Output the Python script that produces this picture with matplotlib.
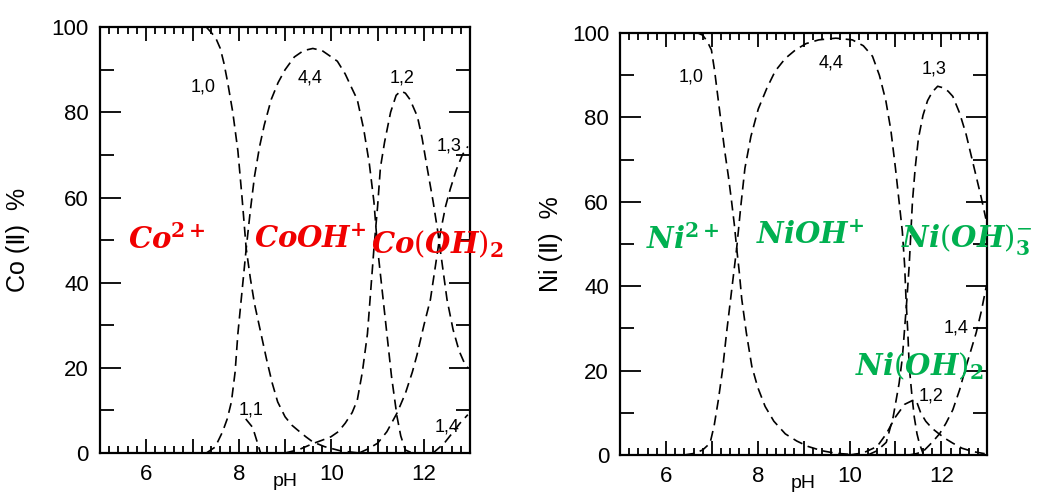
import matplotlib
matplotlib.use("Agg")
import matplotlib.pyplot as plt
from matplotlib.ticker import MultipleLocator

plt.rcParams["font.family"] = ["Liberation Sans", "DejaVu Sans"]
plt.rcParams["mathtext.fontset"] = "dejavuserif"

# ---- Co(II) species distribution (pH, %) ----
co_10_ph = [7.3, 7.4, 7.5, 7.6, 7.68, 7.76, 7.87, 7.98, 8.07, 8.16, 8.25, 8.34, 8.42, 8.5, 8.6,
            8.72, 8.84, 9.0, 9.15, 9.27, 9.45, 9.6, 9.85, 10.2, 10.6]
co_10 = [100, 98.8, 97.5, 95, 91.5, 87, 80, 71, 60, 48, 41, 35, 31, 27, 22,
         16.5, 12, 8.5, 6.5, 5.4, 3.8, 2.6, 1.5, 0.5, 0]
co_44_ph = [7.3, 7.49, 7.65, 7.75, 7.84, 7.92, 7.98, 8.07, 8.16, 8.25, 8.34, 8.45, 8.55, 8.7, 8.85,
            9.0, 9.2, 9.4, 9.6, 9.8, 10.0, 10.13, 10.3, 10.45, 10.56, 10.7, 10.82, 10.92, 11.0,
            11.1, 11.2, 11.3, 11.42, 11.5, 11.6, 11.75]
co_44 = [0, 1.4, 5, 8, 12, 19, 28, 38, 48, 57, 65, 72, 77, 83, 87,
         90, 93, 94.5, 95, 94.5, 93, 92, 89, 85.5, 83, 76, 68, 59, 48,
         38, 28, 18, 8.5, 4, 0.7, 0]
co_12_ph = [9.0, 9.3, 9.6, 9.8, 9.99, 10.15, 10.3, 10.45, 10.56, 10.67, 10.78, 10.85, 10.92, 11.0,
            11.06, 11.15, 11.28, 11.4, 11.5, 11.6, 11.7, 11.86, 11.96, 12.07, 12.2, 12.3, 12.4,
            12.5, 12.63, 12.76, 12.88, 12.95]
co_12 = [0, 0.8, 2.2, 3, 3.8, 5, 7, 9.5, 12.4, 19, 28, 38, 48, 58,
         67, 73, 80, 84, 85, 84.5, 83, 79, 74, 67, 59, 52, 44,
         36, 29, 24, 21, 20]
co_13_ph = [10.6, 10.8, 11.0, 11.2, 11.42, 11.6, 11.75, 11.85, 12.0, 12.14, 12.25, 12.36, 12.47,
            12.57, 12.7, 12.83, 12.95]
co_13 = [0, 1, 2.3, 5, 9.4, 14, 19, 23, 30, 36, 44, 52, 58,
         62, 66.5, 70, 72]
co_11_ph = [8.15, 8.3, 8.4, 8.47]
co_11 = [8, 6, 2.5, 0]
co_14_ph = [12.2, 12.44, 12.6, 12.78, 12.95]
co_14 = [0, 2.3, 4.5, 7, 9]

# ---- Ni(II) species distribution (pH, %) ----
ni_10_ph = [6.7, 6.8, 6.9, 6.99, 7.06, 7.14, 7.21, 7.28, 7.36, 7.43, 7.49, 7.54, 7.6, 7.65, 7.75,
            7.87, 8.0, 8.16, 8.35, 8.6, 8.85, 9.1, 9.4, 9.7, 10.2]
ni_10 = [100, 99.5, 98, 96, 91, 84, 78, 72, 66, 60, 54.5, 49, 43, 37, 29,
         21, 16, 11.5, 8, 5, 3.3, 2, 1, 0.4, 0]
ni_44_ph = [6.4, 6.63, 6.8, 6.96, 7.05, 7.14, 7.23, 7.32, 7.43, 7.54, 7.63, 7.72, 7.85, 8.01, 8.2,
            8.38, 8.6, 8.82, 9.05, 9.33, 9.7, 10.06, 10.3, 10.5, 10.65, 10.79, 10.9, 11.0, 11.08,
            11.15, 11.2, 11.23, 11.27, 11.3, 11.36, 11.41, 11.47, 11.52, 11.6]
ni_44 = [0, 0.4, 1.2, 2.8, 7, 13, 20, 29, 39, 49, 59, 68, 75.5, 82, 87,
         91, 94, 96, 97.5, 98.4, 98.8, 98.4, 97, 94.5, 90, 84, 77, 68, 60,
         53, 45, 37, 29, 21, 14, 9, 5, 2.8, 0.4]
ni_13_ph = [10.4, 10.6, 10.8, 10.95, 11.08, 11.15, 11.2, 11.25, 11.3, 11.37, 11.43, 11.5, 11.6,
            11.7, 11.8, 11.92, 12.05, 12.15, 12.25, 12.4, 12.54, 12.65, 12.76, 12.87, 12.97]
ni_13 = [0, 1, 3, 9, 17, 23, 30, 37, 45, 60, 68, 75, 80.5,
         84, 86, 87.4, 87, 86.2, 85, 81, 76, 71, 66, 61, 56]
ni_12_ph = [10.0, 10.3, 10.6, 10.8, 11.0, 11.2, 11.35, 11.45, 11.55, 11.66, 11.8, 11.95, 12.1,
            12.25, 12.45, 12.69, 12.95]
ni_12 = [0, 0.5, 2, 5, 9, 12, 12.8, 13, 10, 8, 6.3, 5, 3.8,
         2.8, 1.6, 0.8, 0.3]
ni_14_ph = [11.3, 11.45, 11.6, 11.8, 11.96, 12.1, 12.25, 12.4, 12.54, 12.65, 12.76, 12.87, 12.98]
ni_14 = [0, 0.3, 0.8, 3, 5, 7.5, 10.7, 15.5, 21, 25, 29, 34, 40]

x_ticks = [5, 6, 7, 8, 9, 10, 11, 12, 13]
x_labels = ["", "6", "", "8", "", "10", "", "12", ""]
y_ticks = [0, 20, 40, 60, 80, 100]

co_curves = [(co_10_ph, co_10), (co_44_ph, co_44), (co_12_ph, co_12),
             (co_13_ph, co_13), (co_11_ph, co_11), (co_14_ph, co_14)]
co_tags = [("1,0", 7.23, 86), ("4,4", 9.53, 88), ("1,2", 11.53, 88),
           ("1,3", 12.54, 72), ("1,1", 8.26, 10), ("1,4", 12.5, 6)]
ni_curves = [(ni_10_ph, ni_10), (ni_44_ph, ni_44), (ni_13_ph, ni_13),
             (ni_12_ph, ni_12), (ni_14_ph, ni_14)]
ni_tags = [("1,0", 6.55, 89.5), ("4,4", 9.59, 93), ("1,3", 11.85, 91.5),
           ("1,4", 12.33, 30), ("1,2", 11.78, 14)]

red = "#F00000"
green = "#00B050"
co_species = [(r"$\mathbfit{Co}^{\mathbf{2+}}$", 6.45, 50),
              (r"$\mathbfit{CoOH}^{\mathbf{+}}$", 9.55, 50),
              (r"$\mathbfit{Co}(\mathbfit{OH})_{\mathbf{2}}$", 12.3, 49)]
ni_species = [(r"$\mathbfit{Ni}^{\mathbf{2+}}$", 6.37, 51),
              (r"$\mathbfit{NiOH}^{\mathbf{+}}$", 9.15, 52),
              (r"$\mathbfit{Ni}(\mathbfit{OH})_{\mathbf{3}}^{-}$", 12.55, 51),
              (r"$\mathbfit{Ni}(\mathbfit{OH})_{\mathbf{2}}$", 11.52, 21)]

fig = plt.figure(figsize=(10.37, 4.94), dpi=100)
ax1 = fig.add_axes([0.0964, 0.083, 0.357, 0.862])
ax2 = fig.add_axes([0.598, 0.079, 0.354, 0.854])


def setup(ax, ylabel, ylab_x):
    ax.set_xlim(5, 13)
    ax.set_ylim(0, 100)
    ax.set_xticks(x_ticks)
    ax.set_xticklabels(x_labels)
    ax.set_yticks(y_ticks)
    ax.xaxis.set_minor_locator(MultipleLocator(0.2))
    ax.yaxis.set_minor_locator(MultipleLocator(10))
    ax.tick_params(which="both", direction="in", top=True, right=True, width=1.3)
    ax.tick_params(which="major", length=10, labelsize=16, pad=8)
    ax.tick_params(which="minor", length=5)
    ax.tick_params(axis="y", which="major", length=15)
    ax.tick_params(axis="y", which="minor", length=10)
    for s in ax.spines.values():
        s.set_linewidth(1.6)
    ax.set_xlabel("pH", fontsize=14)
    ax.xaxis.set_label_coords(0.5, -0.048)
    ax.set_ylabel(ylabel, fontsize=18)
    ax.yaxis.set_label_coords(ylab_x, 0.5)


for ax, curves, tags, species, color, ylabel, ylab_x in [
        (ax1, co_curves, co_tags, co_species, red, "Co (Ⅱ)  %", -0.19),
        (ax2, ni_curves, ni_tags, ni_species, green, "Ni (Ⅱ)  %", -0.155)]:
    setup(ax, ylabel, ylab_x)
    for xs, ys in curves:
        ax.plot(xs, ys, color="black", lw=1.2, linestyle=(0, (6, 3.5)))
    for t, x, y in tags:
        ax.text(x, y, t, fontsize=13, ha="center", va="center")
    for t, x, y in species:
        ax.text(x, y, t, fontsize=21, color=color, ha="center", va="center")

fig.savefig("out.png", dpi=100)
